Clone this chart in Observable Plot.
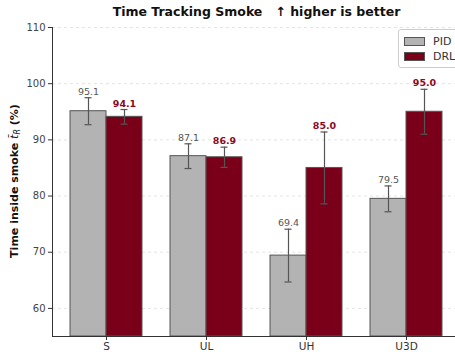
<!DOCTYPE html>
<html>
<head>
<meta charset="utf-8">
<script src="https://cdn.jsdelivr.net/npm/d3@7"></script>
<script src="https://cdn.jsdelivr.net/npm/@observablehq/plot@0.6"></script>
<style>
  body { margin: 0; background: #fff; font-family: "DejaVu Sans", sans-serif; }
  #wrap { position: relative; width: 455px; height: 352px; overflow: hidden; }
  #title { height: 22px; line-height: 24px; font-weight: bold; font-size: 12.5px; color: #111; text-align: center; padding-left: 58px; white-space: pre; }
  #legend { position: absolute; left: 398px; top: 29px; width: 70px; border: 1px solid #ccc; border-radius: 3px; background: #fff; padding: 4px 0 3px 5px; font-size: 11px; color: #333; }
  .row { display: flex; align-items: center; height: 15px; }
  .sw { width: 19px; height: 7px; border: 1px solid #555; margin-right: 8px; }
</style>
</head>
<body>
<div id="wrap">
  <div id="title">Time Tracking Smoke   ↑ higher is better</div>
  <div id="chart"></div>
  <div id="legend"></div>
</div>
<script>
const categories = ["S", "UL", "UH", "U3D"];
const series = ["PID", "DRL"];
const pidMean = [95.1, 87.1, 69.4, 79.5];
const pidErr = [2.4, 2.2, 4.7, 2.3];
const drlMean = [94.1, 86.9, 85.0, 95.0];
const drlErr = [1.3, 1.8, 6.4, 4.0];
const yTicks = [60, 70, 80, 90, 100, 110];

const colors = { PID: "#b3b3b3", DRL: "#7a0019" };
const barW = 0.36;

const rows = [];
categories.forEach((c, i) => {
  rows.push({ cat: c, i, s: "PID", mean: pidMean[i], err: pidErr[i], x1: i - barW, x2: i, xc: i - barW / 2 });
  rows.push({ cat: c, i, s: "DRL", mean: drlMean[i], err: drlErr[i], x1: i, x2: i + barW, xc: i + barW / 2 });
});

const plot = Plot.plot({
  width: 455,
  height: 330,
  marginLeft: 52,
  marginRight: 0,
  marginTop: 5,
  marginBottom: 16,
  style: { fontFamily: "DejaVu Sans, sans-serif", fontSize: "10px", color: "#444", background: "#fff" },
  x: { type: "linear", domain: [-0.54, 3.54], range: [52, 460] },
  y: { domain: [55, 110] },
  marks: [
    Plot.ruleY(yTicks, { stroke: "#ddd", strokeDasharray: "3,3", strokeWidth: 0.8 }),
    Plot.rectY(rows, { x1: "x1", x2: "x2", y1: 55, y2: "mean", fill: d => colors[d.s], stroke: "#555", strokeWidth: 1 }),
    Plot.ruleX(rows, { x: "xc", y1: d => d.mean - d.err, y2: d => d.mean + d.err, stroke: "#555", strokeWidth: 1.2 }),
    Plot.ruleY(rows, { x1: d => d.xc - 0.035, x2: d => d.xc + 0.035, y: d => d.mean + d.err, stroke: "#555", strokeWidth: 1.2 }),
    Plot.ruleY(rows, { x1: d => d.xc - 0.035, x2: d => d.xc + 0.035, y: d => d.mean - d.err, stroke: "#555", strokeWidth: 1.2 }),
    Plot.text(rows.filter(d => d.s === "PID"), { x: "xc", y: d => d.mean + d.err, text: d => d.mean.toFixed(1), lineAnchor: "bottom", dy: -3, fill: "#555", fontSize: 9.5 }),
    Plot.text(rows.filter(d => d.s === "DRL"), { x: "xc", y: d => d.mean + d.err, text: d => d.mean.toFixed(1), lineAnchor: "bottom", dy: -3, fill: "#8b0a1e", fontSize: 9.5, fontWeight: "bold" }),
    Plot.ruleX([-0.54], { stroke: "#333", strokeWidth: 1 }),
    Plot.ruleY([55], { stroke: "#333", strokeWidth: 1 }),
    Plot.axisY(yTicks, { tickSize: 4, label: null, tickPadding: 3, fill: "#444", stroke: "#333" }),
    Plot.axisX([0, 1, 2, 3], { tickSize: 4, label: null, tickFormat: i => categories[i], tickPadding: 2, fill: "#333", stroke: "#333", fontSize: 10.5 })
  ]
});
document.getElementById("chart").appendChild(plot);

// rotated y-axis label with math-like subscript
const svg = d3.select(plot);
const lab = svg.append("text")
  .attr("transform", "translate(18,159) rotate(-90)")
  .attr("text-anchor", "middle")
  .attr("font-size", "11px")
  .attr("font-weight", "bold")
  .attr("fill", "#111")
  .attr("font-family", "DejaVu Sans, sans-serif");
lab.append("tspan").text("Time inside smoke ");
lab.append("tspan").attr("font-style", "italic").attr("font-weight", "normal").text("t\u0304");
lab.append("tspan").attr("font-style", "italic").attr("font-weight", "normal").attr("font-size", "8px").attr("dy", "2").text("R");
lab.append("tspan").attr("dy", "-2").text(" (%)");

// legend
const leg = d3.select("#legend");
series.forEach(s => {
  const r = leg.append("div").attr("class", "row");
  r.append("div").attr("class", "sw").style("background", colors[s]);
  r.append("span").text(s);
});
</script>
</body>
</html>
